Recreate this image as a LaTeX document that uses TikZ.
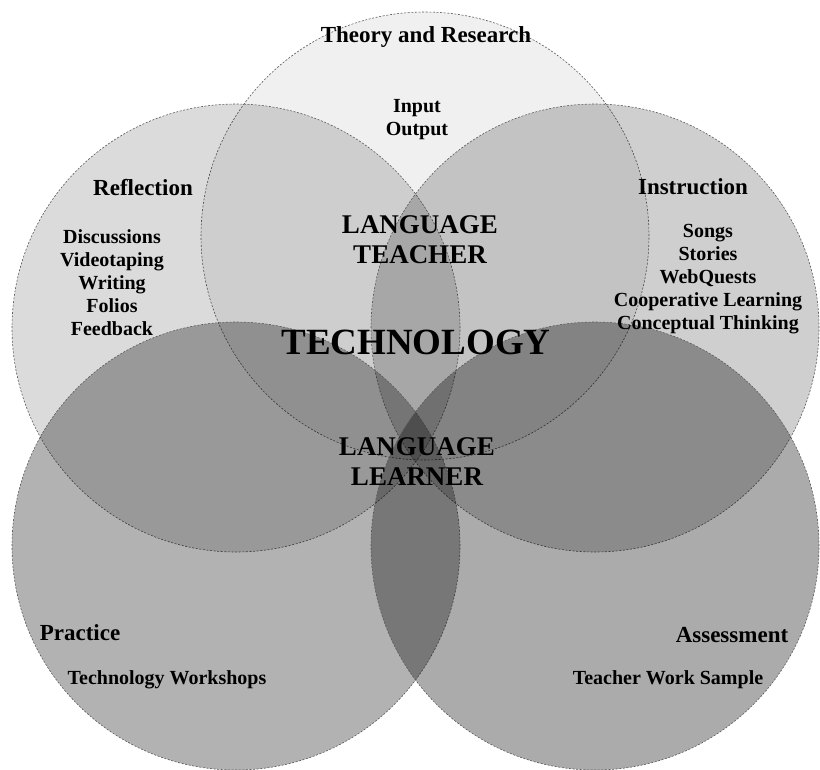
\documentclass[tikz,border=0pt]{standalone}
\usepackage{fontspec}
\setmainfont{Liberation Serif}
\usetikzlibrary{positioning}

\begin{document}
\begin{tikzpicture}[
    x=1pt, y=1pt,
    ring/.style={circle, draw=black!65, line width=0.6pt, dash pattern=on 2pt off 1.6pt, fill=black, minimum size=448pt, inner sep=0pt},
    head/.style={font=\bfseries\fontsize{23}{26}\selectfont, align=center},
    item/.style={font=\bfseries\fontsize{20}{23}\selectfont, align=center},
    core/.style={font=\bfseries\fontsize{27}{30}\selectfont, align=center},
    hub/.style={font=\bfseries\fontsize{37}{40}\selectfont}
]
\useasboundingbox (0,0) rectangle (820,-770);

% the five circles
\node[ring, fill opacity=0.06] (theory) at (425,-236) {};
\node[ring, fill opacity=0.14] (refl)   at (236,-328) {};
\node[ring, fill opacity=0.19] (instr)  at (595,-328) {};
\node[ring, fill opacity=0.30] (prac)   at (236,-546) {};
\node[ring, fill opacity=0.33] (assess) at (595,-546) {};

% circle titles and items
\node[head] (theoryt) at (426,-37) {Theory and Research};
\node[item] (theoryi) at (417,-120) {Input\\Output};

\node[head] (reflt) at (143,-188) {Reflection};
\node[item] (refli) at (112,-283) {Discussions\\Videotaping\\Writing\\Folios\\Feedback};

\node[head] (instrt) at (693,-187) {Instruction};
\node[item] (instri) at (708,-279) {Songs\\Stories\\WebQuests\\Cooperative Learning\\Conceptual Thinking};

\node[head] (pract) at (80,-633) {Practice};
\node[item] (praci) at (167,-680) {Technology Workshops};

\node[head] (assesst) at (732,-635) {Assessment};
\node[item] (assessi) at (668,-680) {Teacher Work Sample};

% centre
\node[core] (teacher) at (420,-240) {LANGUAGE\\TEACHER};
\node[hub] (tech) at (416,-342) {TECHNOLOGY};
\node[core] (learner) at (417,-462) {LANGUAGE\\LEARNER};
\end{tikzpicture}
\end{document}
